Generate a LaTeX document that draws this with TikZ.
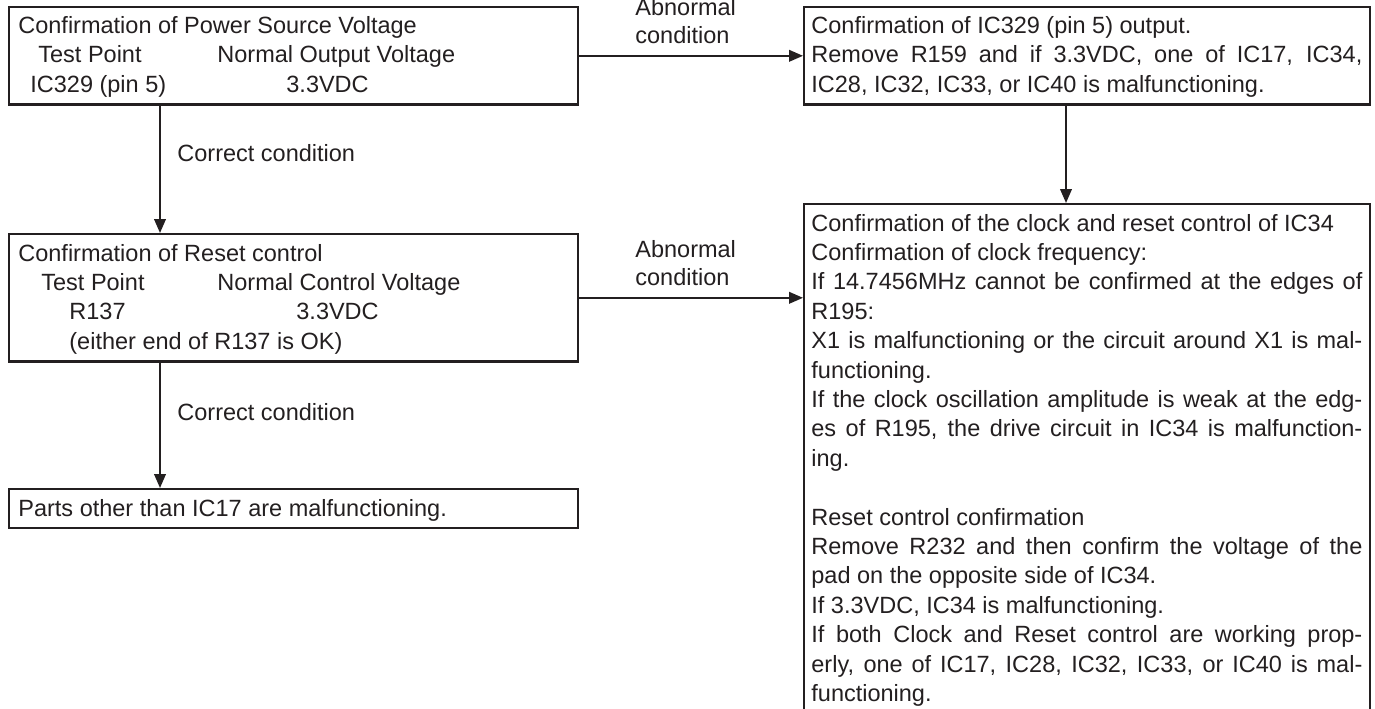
\documentclass[tikz,border=0pt]{standalone}
\usepackage{fontspec}
\setmainfont{Liberation Sans}
\usetikzlibrary{arrows.meta}
\definecolor{ink}{HTML}{231F20}
\tolerance=10000
\hyphenpenalty=10000
\exhyphenpenalty=10000
\begin{document}
\begin{tikzpicture}[x=0.5pt, y=-0.5pt,
  font=\fontsize{11.75pt}{14.7pt}\selectfont,
  box/.style={draw=ink, line width=1.2pt, rectangle, inner sep=0pt, anchor=north west},
  txt/.style={inner sep=0pt, anchor=base west, text=ink},
  para/.style={inner sep=0pt, anchor=base west, text=ink, text width=275.5pt, align=justify},
  arr/.style={draw=ink, line width=1pt, -{Triangle[length=7pt,width=5.8pt]}}]
\useasboundingbox (0,0) rectangle (1375,708);

% boxes
\node[box, minimum width=284.5pt, minimum height=48.6pt] (b1) at (8,6) {};
\node[box, minimum width=283pt, minimum height=48.6pt] (b2) at (803,6) {};
\node[box, minimum width=283pt, minimum height=258.5pt] (b3) at (803,203) {};
\node[box, minimum width=284.5pt, minimum height=63.6pt] (b4) at (8,233) {};
\node[box, minimum width=284.5pt, minimum height=19.5pt] (b5) at (8,488) {};

% box 1 text
\node[txt] (t1a) at (18,33.5) {Confirmation of Power Source Voltage};
\node[txt] (t1b) at (38,62.9) {Test Point};
\node[txt] (t1c) at (217,62.9) {Normal Output Voltage};
\node[txt] (t1d) at (30,92.3) {IC329 (pin 5)};
\node[txt] (t1e) at (286,92.3) {3.3VDC};

% box 2 text
\node[para] (t2) at (811,33.5) {Confirmation of IC329 (pin 5) output.\par
Remove R159 and if 3.3VDC, one of IC17, IC34,\linebreak
IC28, IC32, IC33, or IC40 is malfunctioning.};

% box 3 text
\node[para] (t3) at (811,231) {Confirmation of the clock and reset control of IC34\par
Confirmation of clock frequency:\par
If 14.7456MHz cannot be confirmed at the edges of\linebreak
R195:\par
X1 is malfunctioning or the circuit around X1 is mal-\linebreak
functioning.\par
If the clock oscillation amplitude is weak at the edg-\linebreak
es of R195, the drive circuit in IC34 is malfunction-\linebreak
ing.\par
\mbox{}\par
Reset control confirmation\par
Remove R232 and then confirm the voltage of the\linebreak
pad on the opposite side of IC34.\par
If 3.3VDC, IC34 is malfunctioning.\par
If both Clock and Reset control are working prop-\linebreak
erly, one of IC17, IC28, IC32, IC33, or IC40 is mal-\linebreak
functioning.};

% box 4 text
\node[txt] (t4a) at (18,261) {Confirmation of Reset control};
\node[txt] (t4b) at (41,290.4) {Test Point};
\node[txt] (t4c) at (217,290.4) {Normal Control Voltage};
\node[txt] (t4d) at (69,319.8) {R137};
\node[txt] (t4e) at (296,319.8) {3.3VDC};
\node[txt] (t4f) at (69,349.2) {(either end of R137 is OK)};

% box 5 text
\node[txt] (t5) at (18,516) {Parts other than IC17 are malfunctioning.};

% connector labels
\node[txt] (l1a) at (635,15) {Abnormal};
\node[txt] (l1b) at (635,43) {condition};
\node[txt] (l2a) at (635,257) {Abnormal};
\node[txt] (l2b) at (635,285) {condition};
\node[txt] (l3) at (177,161.6) {Correct condition};
\node[txt] (l4) at (177,420.6) {Correct condition};

% connectors
\coordinate (kl) at (160,0);
\coordinate (kr) at (1066,0);
\draw[arr] (b1.east) -- (b2.west);
\draw[arr] (b4.east) -- (b4.east -| b3.west);
\draw[arr] (kl |- b1.south) -- (kl |- b4.north);
\draw[arr] (kl |- b4.south) -- (kl |- b5.north);
\draw[arr] (kr |- b2.south) -- (kr |- b3.north);
\end{tikzpicture}
\end{document}
